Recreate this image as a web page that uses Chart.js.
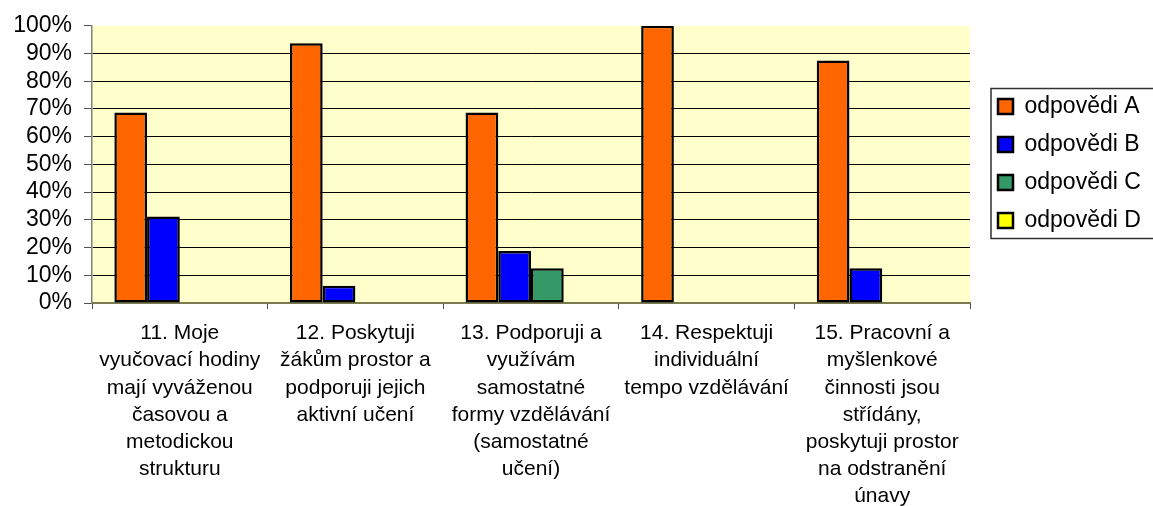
<!DOCTYPE html>
<html>
<head>
<meta charset="utf-8">
<script src="https://cdn.jsdelivr.net/npm/chart.js@4.4.1/dist/chart.umd.min.js"></script>
<style>
html,body{margin:0;padding:0;background:#fff;}
#wrap{width:1153px;height:506px;position:relative;}
</style>
</head>
<body>
<div id="wrap"><canvas id="c" width="1153" height="506"></canvas></div>
<script>
const categories = [
  ["11. Moje", "vyučovací hodiny", "mají vyváženou", "časovou a", "metodickou", "strukturu"],
  ["12. Poskytuji", "žákům prostor a", "podporuji jejich", "aktivní učení"],
  ["13. Podporuji a", "využívám", "samostatné", "formy vzdělávání", "(samostatné", "učení)"],
  ["14. Respektuji", "individuální", "tempo vzdělávání"],
  ["15. Pracovní a", "myšlenkové", "činnosti jsou", "střídány,", "poskytuji prostor", "na odstranění", "únavy"]
];
const seriesNames = ["odpovědi A", "odpovědi B", "odpovědi C", "odpovědi D"];
const answersA = [68.75, 93.75, 68.75, 100, 87.5];
const answersB = [31.25, 6.25, 18.75, 0, 12.5];
const answersC = [0, 0, 12.5, 0, 0];
const answersD = [0, 0, 0, 0, 0];
const yTicks = [0, 10, 20, 30, 40, 50, 60, 70, 80, 90, 100];

const FONT = "'Liberation Sans', Arial, sans-serif";
const colors = ["#FF6600", "#0000FF", "#339966", "#FFFF00"];
const seriesValues = [answersA, answersB, answersC, answersD];

const datasets = seriesNames.map((n, i) => ({
  label: n,
  data: seriesValues[i],
  backgroundColor: colors[i],
  borderColor: "#000000",
  borderWidth: 2.5,
  borderSkipped: false,
  categoryPercentage: 4.1 / 5.5,
  barPercentage: 1.0
}));

const layoutPlugin = {
  id: "layoutTweaks",
  beforeUpdate(chart) {
    const lg = chart.legend;
    if (lg && !lg._patched) {
      const orig = lg.fit;
      lg.fit = function () { orig.call(this); this.width = 183; };
      lg._patched = true;
    }
  },
  afterLayout(chart) {
    const lg = chart.legend;
    if (lg) { lg.left = 983; lg.top = 80; }
  },
  beforeDraw(chart) {
    const {ctx, chartArea: a} = chart;
    ctx.save();
    ctx.fillStyle = "#FFFFCC";
    ctx.fillRect(a.left, a.top, a.right - a.left, a.bottom - a.top);
    ctx.restore();
  },
  afterDraw(chart) {
    const ctx = chart.ctx;
    ctx.save();
    ctx.strokeStyle = "#303030";
    ctx.lineWidth = 1.5;
    ctx.strokeRect(991, 88.5, 200, 150);
    ctx.restore();
  }
};

new Chart(document.getElementById("c"), {
  type: "bar",
  data: { labels: categories, datasets: datasets },
  options: {
    responsive: false,
    animation: false,
    layout: { padding: { top: 24, left: 0, right: 0, bottom: 0 } },
    plugins: {
      tooltip: { enabled: false },
      legend: {
        position: "right",
        align: "start",
        labels: {
          boxWidth: 15,
          boxHeight: 15,
          padding: 15,
          color: "#000",
          font: { family: FONT, size: 23 }
        }
      }
    },
    scales: {
      x: {
        grid: {
          drawOnChartArea: false,
          drawTicks: true,
          tickLength: 6,
          tickColor: "#505050",
          offset: true
        },
        border: { color: "#7a7a50", width: 2 },
        ticks: {
          color: "#000",
          font: { family: FONT, size: 21, lineHeight: 1.29 },
          padding: 11,
          maxRotation: 0,
          minRotation: 0,
          autoSkip: false
        },
        afterFit(scale) { scale.height = 203; }
      },
      y: {
        min: 0,
        max: 100,
        afterBuildTicks(scale) { scale.ticks = yTicks.map(v => ({ value: v })); },
        grid: {
          color: (c) => (c.tick && (c.tick.value === 100 || c.tick.value === 0)) ? "rgba(0,0,0,0)" : "#000000",
          lineWidth: 1,
          tickLength: 8,
          tickColor: "#505050"
        },
        border: { color: "#808080", width: 1.5 },
        ticks: {
          color: "#000",
          font: { family: FONT, size: 23 },
          padding: 12,
          autoSkip: false,
          stepSize: 10,
          callback: (v) => v + "%"
        },
        afterFit(scale) { scale.width = 92; }
      }
    }
  },
  plugins: [layoutPlugin]
});
</script>
</body>
</html>
